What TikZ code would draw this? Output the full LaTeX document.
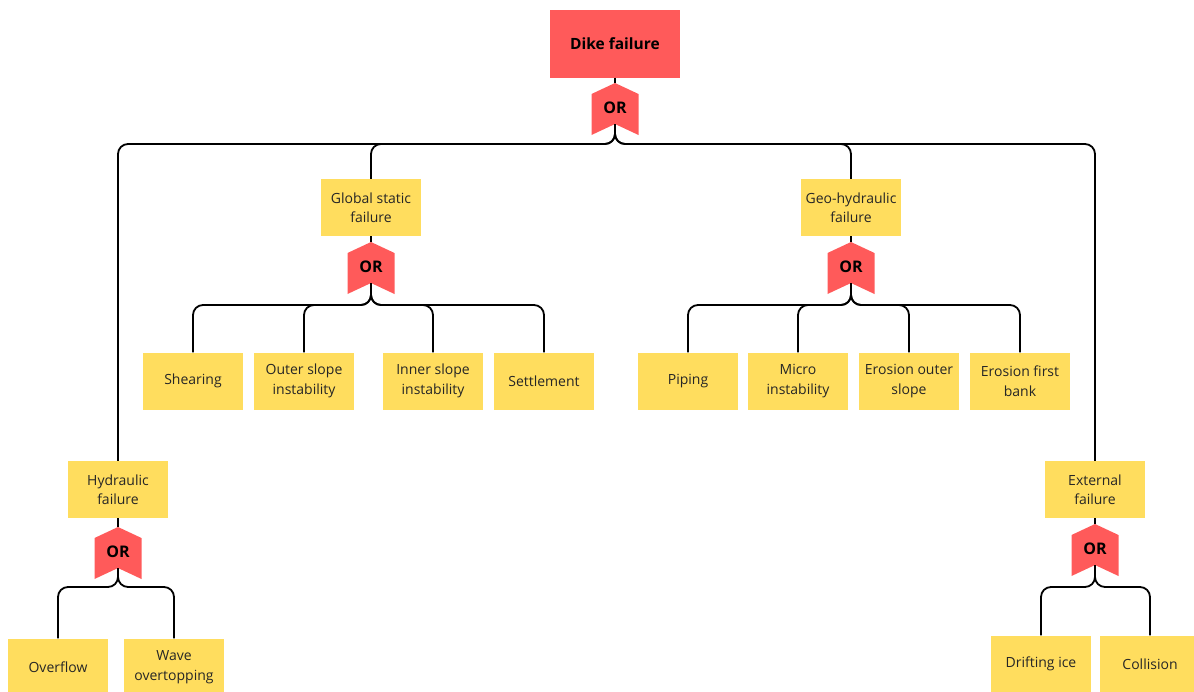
\documentclass[tikz,border=0pt]{standalone}
\usepackage{fontspec}
\setmainfont{Open Sans}
\definecolor{gatered}{HTML}{FF5A5A}
\definecolor{boxyellow}{HTML}{FFDD5E}
\begin{document}
\begin{tikzpicture}[x=1pt,y=-1pt,
  box/.style={fill=boxyellow, minimum width=100pt, minimum height=57pt, inner sep=0pt, align=center, font=\fontsize{14}{19.5}\selectfont, text=black!85},
  topbox/.style={fill=gatered, minimum width=130pt, minimum height=68pt, inner sep=0pt, font=\fontsize{15.5}{18}\selectfont\bfseries},
  gatetxt/.style={inner sep=0pt, font=\fontsize{16}{18}\selectfont\bfseries},
  conn/.style={line width=1.8pt, black, rounded corners=10pt}]
\useasboundingbox (0,0) rectangle (1194,691);
\clip (0,0) rectangle (1194,691);

% gate macro: name, cx, ytop
\newcommand{\orgate}[3]{%
  \fill[gatered] (#2,#3) -- (#2+23.5,#3+11) -- (#2+23.5,#3+52) -- (#2,#3+41) -- (#2-23.5,#3+52) -- (#2-23.5,#3+11) -- cycle;
  \coordinate (#1t) at (#2,#3);
  \coordinate (#1b) at (#2,#3+41);
  \node[gatetxt] (#1) at (#2,#3+25) {OR};
}

% boxes
\node[topbox] (dike) at (615,43.5) {Dike failure};
\node[box] (glob) at (371,207.5) {Global static\\failure};
\node[box] (geo) at (851,207.5) {Geo-hydraulic\\failure};
\node[box] (hyd) at (118,489.5) {Hydraulic\\failure};
\node[box] (ext) at (1095,489.5) {External\\failure};

\node[box] (shear) at (193,381) {Shearing};
\node[box] (outer) at (304,381) {Outer slope\\instability};
\node[box] (inner) at (433,381) {Inner slope\\instability};
\node[box] (settle) at (544,381) {Settlement};

\node[box] (piping) at (688,381) {Piping};
\node[box] (micro) at (798,381) {Micro\\instability};
\node[box] (erout) at (909,381) {Erosion outer\\slope};
\node[box] (erfirst) at (1020,381) {Erosion first\\bank};

\node[box] (overflow) at (58,667) {Overflow};
\node[box] (wave) at (174,667) {Wave\\overtopping};
\node[box] (drift) at (1041,664) {Drifting ice};
\node[box] (coll) at (1150,664) {Collision};

% gates
\orgate{g0}{615}{83}
\orgate{g1}{371}{242}
\orgate{g2}{851}{242}
\orgate{g3}{118}{527}
\orgate{g4}{1095}{524}

% parent to gate
\draw[conn] (dike.south) -- (g0t);
\draw[conn] (glob.south) -- (g1t);
\draw[conn] (geo.south) -- (g2t);
\draw[conn] (hyd.south) -- (g3t);
\draw[conn] (ext.south) -- (g4t);

% gate to children
\foreach \c in {glob,geo,hyd,ext}
  \draw[conn] (g0b) |- (\c.north |- 0,144) -- (\c.north);
\foreach \c in {shear,outer,inner,settle}
  \draw[conn] (g1b) |- (\c.north |- 0,305) -- (\c.north);
\foreach \c in {piping,micro,erout,erfirst}
  \draw[conn] (g2b) |- (\c.north |- 0,305) -- (\c.north);
\foreach \c in {overflow,wave}
  \draw[conn] (g3b) |- (\c.north |- 0,587) -- (\c.north);
\foreach \c in {drift,coll}
  \draw[conn] (g4b) |- (\c.north |- 0,587) -- (\c.north);
\end{tikzpicture}
\end{document}
